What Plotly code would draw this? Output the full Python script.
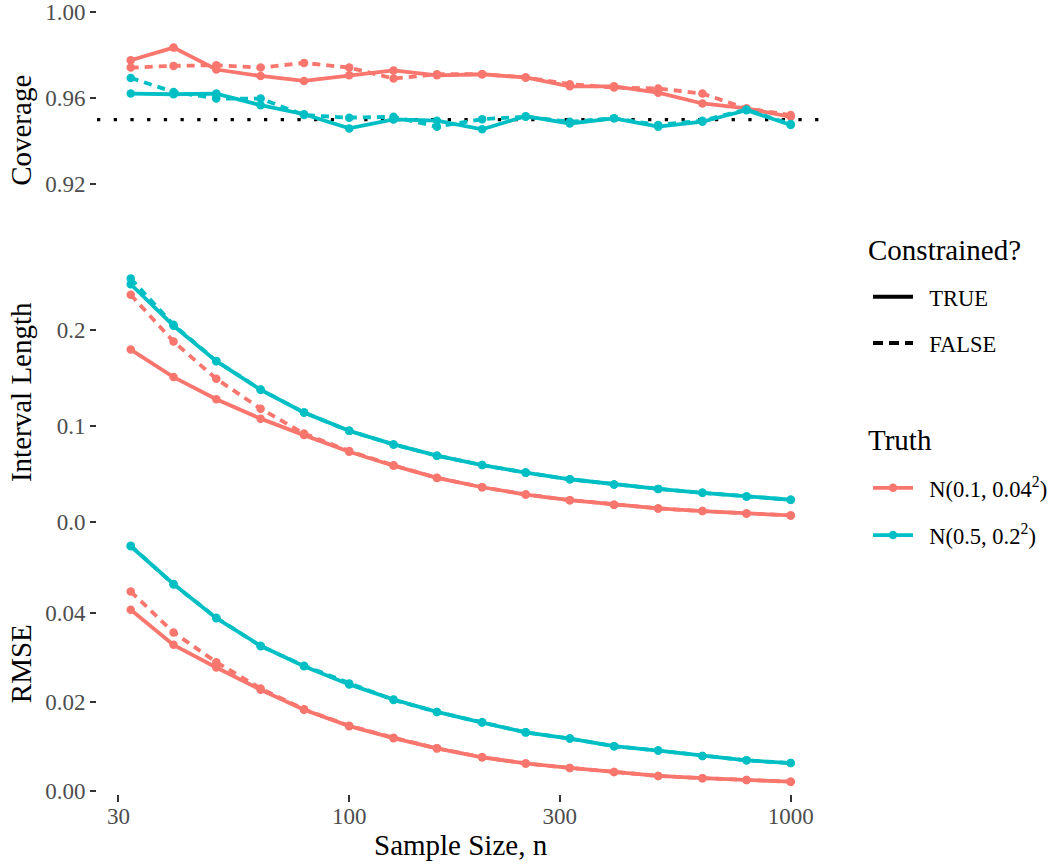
import plotly.graph_objects as go

# ---------------- data ----------------
n = [32, 40, 50, 63, 79, 100, 126, 158, 200, 251, 316, 398, 501, 631, 794, 1000]

truth_labels = ["N(0.1, 0.04<sup>2</sup>)", "N(0.5, 0.2<sup>2</sup>)"]
constrained_labels = ["TRUE", "FALSE"]

cov_n01_T = [0.9776, 0.9835, 0.9733, 0.9703, 0.9680, 0.9706, 0.9729, 0.9706, 0.9711, 0.9696, 0.9655, 0.9655, 0.9625, 0.9575, 0.9552, 0.9513]
cov_n01_F = [0.9742, 0.9750, 0.9753, 0.9742, 0.9764, 0.9742, 0.9691, 0.9711, 0.9711, 0.9696, 0.9665, 0.9649, 0.9645, 0.9621, 0.9552, 0.9521]
cov_n05_T = [0.9621, 0.9618, 0.9621, 0.9567, 0.9525, 0.9459, 0.9501, 0.9495, 0.9455, 0.9516, 0.9482, 0.9506, 0.9467, 0.9490, 0.9544, 0.9475]
cov_n05_F = [0.9694, 0.9629, 0.9598, 0.9598, 0.9521, 0.9509, 0.9513, 0.9467, 0.9502, 0.9513, 0.9490, 0.9506, 0.9475, 0.9495, 0.9547, 0.9479]

int_n01_T = [0.1793, 0.1507, 0.1276, 0.1075, 0.0904, 0.0731, 0.0586, 0.0459, 0.0362, 0.0286, 0.0228, 0.0180, 0.0142, 0.0114, 0.0090, 0.0069]
int_n01_F = [0.2362, 0.1876, 0.1489, 0.1179, 0.0920, 0.0738, 0.0590, 0.0461, 0.0363, 0.0287, 0.0228, 0.0180, 0.0142, 0.0114, 0.0090, 0.0069]
int_n05_T = [0.2472, 0.2041, 0.1672, 0.1375, 0.1138, 0.0948, 0.0807, 0.0690, 0.0593, 0.0514, 0.0445, 0.0390, 0.0345, 0.0304, 0.0266, 0.0232]
int_n05_F = [0.2531, 0.2050, 0.1675, 0.1377, 0.1139, 0.0949, 0.0807, 0.0690, 0.0593, 0.0514, 0.0445, 0.0390, 0.0345, 0.0304, 0.0266, 0.0232]

rmse_n01_T = [0.0408, 0.0329, 0.0278, 0.0228, 0.0183, 0.0146, 0.0119, 0.0096, 0.0076, 0.0062, 0.0052, 0.0043, 0.0034, 0.0029, 0.0025, 0.0021]
rmse_n01_F = [0.0449, 0.0357, 0.0290, 0.0231, 0.0184, 0.0147, 0.0120, 0.0096, 0.0076, 0.0062, 0.0052, 0.0043, 0.0034, 0.0029, 0.0025, 0.0021]
rmse_n05_T = [0.0551, 0.0466, 0.0389, 0.0327, 0.0281, 0.0240, 0.0206, 0.0178, 0.0154, 0.0132, 0.0118, 0.0101, 0.0091, 0.0079, 0.0069, 0.0063]
rmse_n05_F = [0.0552, 0.0465, 0.0390, 0.0326, 0.0282, 0.0242, 0.0205, 0.0178, 0.0155, 0.0132, 0.0118, 0.0101, 0.0091, 0.0079, 0.0069, 0.0063]

coverage_target = 0.95

x_ticks = [30, 100, 300, 1000]
cov_ticks = [0.92, 0.96, 1.00]
int_ticks = [0.0, 0.1, 0.2]
rmse_ticks = [0.00, 0.02, 0.04]

panel_titles = ["Coverage", "Interval Length", "RMSE"]
x_title = "Sample Size, n"
legend_titles = ["Constrained?", "Truth"]

# ---------------- style ----------------
FONT = "Liberation Serif"
COLORS = ["#F8766D", "#00BFC4"]
DASHES = {"TRUE": "solid", "FALSE": "8px,6px"}
LW = 3.8
MS = 8.5
TITLE_SIZE = 29
TICK_SIZE = 23
LEG_SIZE = 22.5
PAD = "\u00a0\u00a0"

panels = [
    {"T": [cov_n01_T, cov_n05_T], "F": [cov_n01_F, cov_n05_F]},
    {"T": [int_n01_T, int_n05_T], "F": [int_n01_F, int_n05_F]},
    {"T": [rmse_n01_T, rmse_n05_T], "F": [rmse_n01_F, rmse_n05_F]},
]

fig = go.Figure()
axis_ids = ["", "2", "3"]
for p, panel in enumerate(panels):
    xa = "x" + axis_ids[p]
    ya = "y" + axis_ids[p]
    for t in range(2):
        for key in ["T", "F"]:
            lab = "TRUE" if key == "T" else "FALSE"
            fig.add_trace(go.Scatter(
                x=n, y=panel[key][t], xaxis=xa, yaxis=ya, mode="lines+markers",
                line=dict(color=COLORS[t], width=LW, dash=DASHES[lab]),
                marker=dict(color=COLORS[t], size=MS),
                showlegend=False, hoverinfo="skip"))

# legend entries
for i, lab in enumerate(constrained_labels):
    fig.add_trace(go.Scatter(
        x=[None], y=[None], mode="lines", name=PAD + lab,
        line=dict(color="black", width=LW, dash="10px,6px" if lab == "FALSE" else "solid"),
        legend="legend", legendgroup="c" + str(i), showlegend=True))
for i, lab in enumerate(truth_labels):
    fig.add_trace(go.Scatter(
        x=[None], y=[None], mode="lines+markers", name=PAD + lab,
        line=dict(color=COLORS[i], width=LW), marker=dict(color=COLORS[i], size=MS),
        legend="legend2", legendgroup="t" + str(i), showlegend=True))

fig.add_shape(type="line", xref="x domain", x0=0, x1=1, yref="y",
              y0=coverage_target, y1=coverage_target,
              line=dict(color="black", width=3.3, dash="3.3px,13.4px"), layer="below")

tickfont = dict(family=FONT, size=TICK_SIZE, color="#4D4D4D")
common_y = dict(showgrid=False, zeroline=False, showline=False, ticks="outside",
                ticklen=6, tickwidth=2.2, tickcolor="#333333", tickfont=tickfont,
                ticklabeloverflow="allow")
common_x = dict(type="log", range=[1.4287, 3.0754], showgrid=False, zeroline=False,
                showline=False)

H = 794.0
W = 727.0
L = 97.0
def dom(top_px, bot_px):
    return [1 - bot_px / H, 1 - top_px / H]
def px_x(px):
    return (px - L) / W
def px_y(px):
    return 1 - px / H

fig.update_layout(
    width=1057, height=867,
    margin=dict(l=97, r=233, t=0, b=73),
    paper_bgcolor="white", plot_bgcolor="white",
    font=dict(family=FONT, color="black"),
    xaxis=dict(**common_x, anchor="y", matches="x3", showticklabels=False, ticks=""),
    xaxis2=dict(**common_x, anchor="y2", matches="x3", showticklabels=False, ticks=""),
    xaxis3=dict(**common_x, anchor="y3", tickvals=x_ticks, ticktext=[str(v) for v in x_ticks],
                ticks="outside", ticklen=7, tickwidth=2.2, tickcolor="#333333", tickfont=tickfont,
                ticklabelstandoff=-6, ticklabeloverflow="allow"),
    yaxis=dict(**common_y, domain=dom(0, 257), range=[0.8848, 1.0038],
               tickvals=cov_ticks, ticktext=["%.2f" % v for v in cov_ticks]),
    yaxis2=dict(**common_y, domain=dom(264, 526), range=[-0.00548, 0.26546],
                tickvals=int_ticks, ticktext=["%.1f" % v for v in int_ticks]),
    yaxis3=dict(**common_y, domain=dom(533, 794), range=[-0.00067, 0.05778],
                tickvals=rmse_ticks, ticktext=["%.2f" % v for v in rmse_ticks]),
    legend=dict(font=dict(family=FONT, size=LEG_SIZE), x=px_x(868), xanchor="left",
                y=px_y(273), yanchor="top", tracegroupgap=14, itemwidth=40,
                traceorder="grouped", bgcolor="rgba(0,0,0,0)"),
    legend2=dict(font=dict(family=FONT, size=LEG_SIZE), x=px_x(868), xanchor="left",
                 y=px_y(465), yanchor="top", tracegroupgap=15, itemwidth=40,
                 traceorder="grouped", bgcolor="rgba(0,0,0,0)"),
)

title_font = dict(family=FONT, size=TITLE_SIZE, color="black")
title_y_px = [127.5, 390, 663.5]
for t, ypx in zip(panel_titles, title_y_px):
    fig.add_annotation(text=t, xref="paper", yref="paper", x=px_x(21), y=px_y(ypx),
                       xanchor="center", yanchor="middle", textangle=-90, showarrow=False,
                       font=title_font)
fig.add_annotation(text=x_title, xref="paper", yref="paper", x=0.5, y=px_y(845.7),
                   xanchor="center", yanchor="middle", showarrow=False, font=title_font)
for t, ypx in zip(legend_titles, [247, 438]):
    fig.add_annotation(text=t, xref="paper", yref="paper", x=px_x(866), y=px_y(ypx),
                       xanchor="left", yanchor="middle", showarrow=False, font=title_font)

fig.write_html("out.html", config={"displayModeBar": False},
               post_script="document.body.style.margin='0';")
